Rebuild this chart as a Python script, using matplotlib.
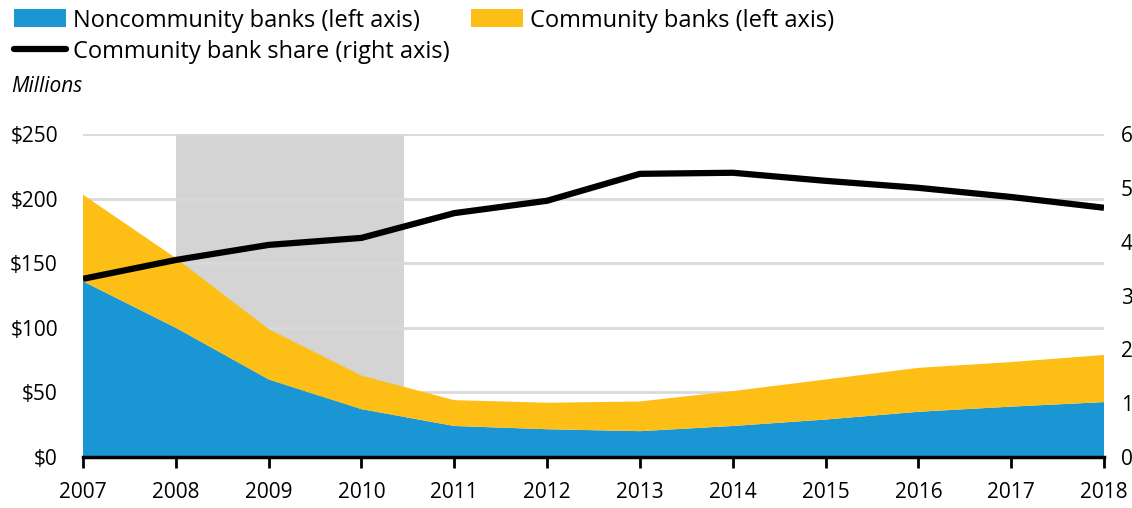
import numpy as np
import matplotlib
matplotlib.use("Agg")
import matplotlib.pyplot as plt
from matplotlib.patches import Patch
from matplotlib.lines import Line2D

plt.rcParams['font.family'] = ['Open Sans', 'DejaVu Sans']

years = [2007, 2008, 2009, 2010, 2011, 2012, 2013, 2014, 2015, 2016, 2017, 2018]
noncommunity = [136, 100, 60, 37, 24, 21.5, 20, 24, 29, 35, 39, 42.5]
community = [67, 54, 39, 26, 20, 20.5, 23, 27, 31, 34, 34.5, 36.5]
share = [33.1, 36.6, 39.4, 40.7, 45.3, 47.6, 52.6, 52.8, 51.3, 50.0, 48.3, 46.3]
left_ticks = [0, 50, 100, 150, 200, 250]
right_ticks = [0, 10, 20, 30, 40, 50, 60]
recession = (2008, 2010.46)

blue = '#1996d3'
yellow = '#fdbf15'
grid_c = '#d9d9d9'

fig = plt.figure(figsize=(11.32, 5.08), dpi=100)
ax = fig.add_axes([83/1132, 1 - 457/508, (1104-83)/1132, (457-134)/508])

ax.axvspan(recession[0], recession[1], color='#d4d4d4', lw=0, zorder=0)
for t in left_ticks[1:]:
    ax.axhline(t, color=grid_c, lw=2, zorder=0.5)

ax.stackplot(years, noncommunity, community, colors=[blue, yellow], lw=0, zorder=1)

ax.set_xlim(2007, 2018)
ax.set_ylim(0, 250)
ax.set_xticks(years)
ax.set_yticks(left_ticks)
ax.set_yticklabels(['$' + str(t) for t in left_ticks])
ax.tick_params(axis='y', length=0, pad=18, labelsize=15)
ax.tick_params(axis='x', length=8, width=2, direction='out', pad=10, labelsize=15)
for s in ['top', 'left', 'right']:
    ax.spines[s].set_visible(False)
ax.spines['bottom'].set_linewidth(2.5)
ax.spines['bottom'].set_zorder(5)

ax2 = ax.twinx()
ax2.plot(years, share, color='black', lw=4.5, solid_capstyle='butt', zorder=3)
ax2.set_ylim(0, 60)
ax2.set_yticks(right_ticks)
ax2.set_yticklabels([str(t) + '%' for t in right_ticks])
ax2.tick_params(axis='y', length=0, pad=12, labelsize=15)
for s in ['top', 'left', 'right', 'bottom']:
    ax2.spines[s].set_visible(False)

handles = [Patch(color=blue, lw=0),
           Line2D([], [], color='black', lw=4.5, solid_capstyle='round'),
           Patch(color=yellow, lw=0)]
labels = ['Noncommunity banks (left axis)', 'Community bank share (right axis)',
          'Community banks (left axis)']
fig.legend(handles, labels, ncol=2, loc='upper left', bbox_to_anchor=(0.0, 1.011),
           frameon=False, fontsize=17, handlelength=2.2, handleheight=0.8,
           handletextpad=0.3, columnspacing=0.9, labelspacing=0.3, borderaxespad=0.2)

fig.text(11/1132, 1 - 86/508, 'Millions', style='italic', fontsize=15, va='center', ha='left')

fig.savefig('out.png', dpi=100)
